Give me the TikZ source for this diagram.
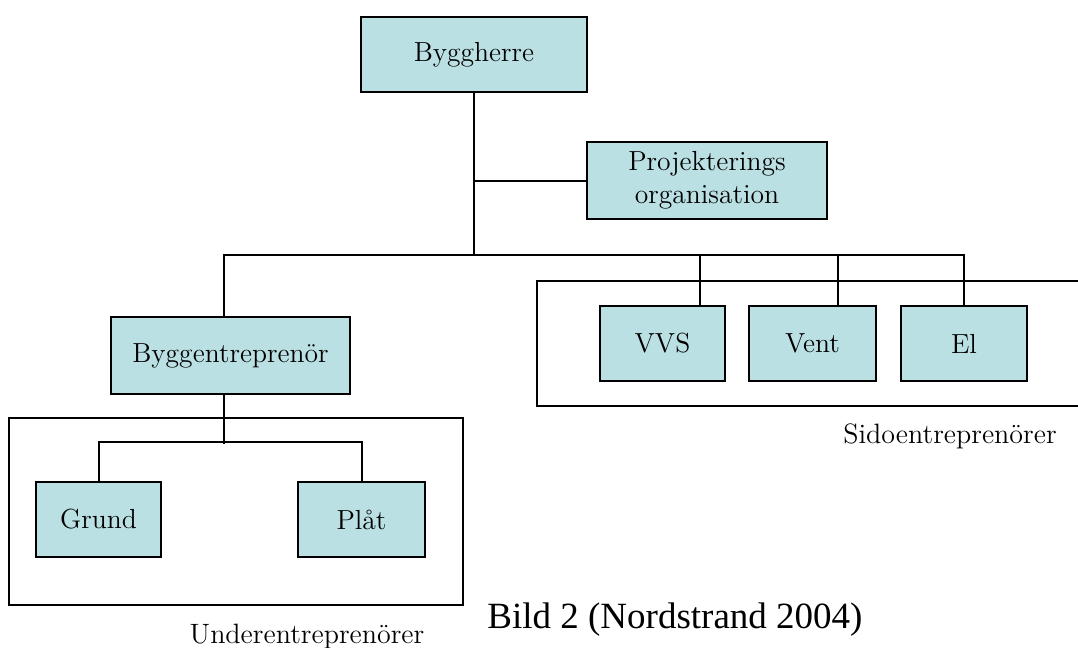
\documentclass[tikz,border=0pt]{standalone}
\usepackage{fontspec}
\newfontfamily\captionfont{Liberation Serif}
\usetikzlibrary{positioning}
\definecolor{orgfill}{RGB}{187,224,227}

\begin{document}
\begin{tikzpicture}[
                x=0.5pt, y=-0.5pt,
                unit/.style={rectangle, draw, line width=1pt, fill=orgfill, minimum height=37.5pt, align=center, inner sep=0pt, font=\fontsize{13.8}{16.5}\selectfont},
                group/.style={draw, line width=0.9pt},
                grouplbl/.style={anchor=base, inner sep=0pt, font=\fontsize{14}{16.5}\selectfont},
                link/.style={draw, line width=1pt}
            ]
                \useasboundingbox (0,0) rectangle (1078,648);

                % Groups (drawn first, behind)
                \draw[group] (1080,281) -- (537,281) -- (537,406) -- (1080,406);
                \draw[group] (9,418) rectangle (463,605);
                \node[grouplbl] (sidolbl) at (950,443) {Sidoentrepren\"orer};
                \node[grouplbl] (underlbl) at (307,643) {Underentrepren\"orer};

                % Top
                \node[unit, minimum width=113pt] (herre) at (474,54.5) {Byggherre};
                \node[unit, minimum width=120pt, minimum height=38.5pt] (proj) at (707,180.5) {Projekterings\\organisation};

                % Row 2
                \node[unit, minimum width=119.5pt, minimum height=38.5pt] (bygg) at (230.5,355.5) {Byggentrepren\"or};
                \node[unit, minimum width=62.5pt] (vvs) at (662.5,343.5) {VVS};
                \node[unit, minimum width=63.5pt] (vent) at (812.5,343.5) {Vent};
                \node[unit, minimum width=63pt] (el) at (964,343.5) {El};

                % Row 3
                \node[unit, minimum width=62.5pt] (grund) at (98.5,519.5) {Grund};
                \node[unit, minimum width=63.5pt] (plat) at (361.5,519.5) {Pl\aa t};

                % Connectors
                \coordinate (bus) at (474,256);
                \draw[link] (herre.south) -- (bus);
                \draw[link] (herre.south |- proj.west) -- (proj.west);
                \draw[link] ([xshift=-3.25pt]bygg.north) -- ++(0,-61) -| (el.north);
                \draw[link] ([xshift=18.75pt]vvs.north) -- ++(0,-50);
                \draw[link] ([xshift=12.75pt]vent.north) -- ++(0,-50);
                \draw[link] ([xshift=-3.25pt]bygg.south) -- ++(0,49);
                \draw[link] (grund.north) -- ++(0,-39) -| (plat.north);

                % Caption
                \node[anchor=base west, inner sep=0pt, font=\captionfont\fontsize{18.5}{22}\selectfont] (caption) at (487,628) {Bild 2 (Nordstrand 2004)};
            \end{tikzpicture}
\end{document}
